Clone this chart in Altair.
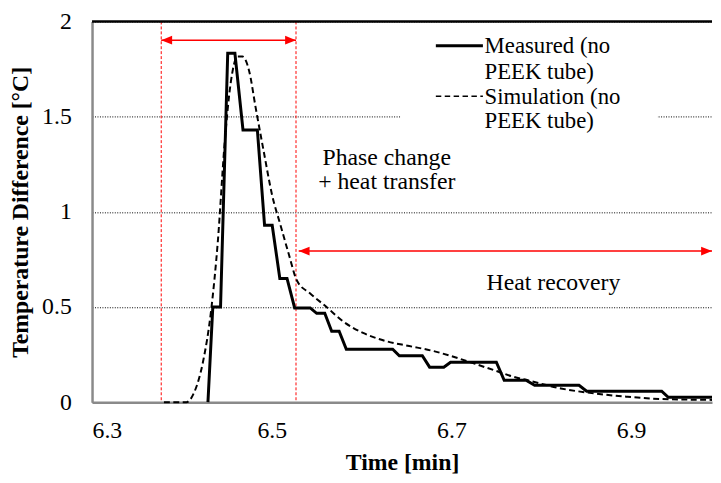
import altair as alt
import pandas as pd

# ---------------- data ----------------
meas_t = [6.429, 6.4344, 6.443, 6.451, 6.459, 6.468, 6.484, 6.492, 6.5005, 6.509, 6.517,
          6.5255, 6.5428, 6.550, 6.559, 6.5667, 6.575, 6.583, 6.6346, 6.642, 6.6676,
          6.6757, 6.6915, 6.699, 6.750, 6.7587, 6.783, 6.7926, 6.842, 6.8505, 6.934,
          6.9413, 6.99]
meas_v = [0, 0.5, 0.5, 1.833, 1.833, 1.43, 1.43, 0.93, 0.93, 0.65, 0.65,
          0.495, 0.495, 0.467, 0.467, 0.373, 0.373, 0.278, 0.278, 0.244, 0.244,
          0.184, 0.184, 0.21, 0.21, 0.115, 0.115, 0.089, 0.089, 0.058, 0.058,
          0.026, 0.026]

sim_t = [6.38, 6.405, 6.414, 6.4234, 6.4326, 6.44, 6.4473, 6.4546, 6.462, 6.4675,
         6.4749, 6.482, 6.4914, 6.5005, 6.5097, 6.519, 6.528, 6.5428, 6.561, 6.5795,
         6.6016, 6.627, 6.653, 6.6787, 6.704, 6.7265, 6.748, 6.77, 6.785, 6.822,
         6.8587, 6.895, 6.932, 6.99]
sim_v = [0, 0, 0.055, 0.21, 0.485, 0.845, 1.344, 1.687, 1.816, 1.816,
         1.739, 1.55, 1.309, 1.086, 0.931, 0.777, 0.639, 0.571, 0.50, 0.424,
         0.364, 0.321, 0.295, 0.27, 0.236, 0.201, 0.167, 0.132, 0.115, 0.072,
         0.046, 0.029, 0.017, 0.012]

x_ticks = [6.3, 6.5, 6.7, 6.9]
y_ticks = [0, 0.5, 1, 1.5, 2]
x_domain = [6.3, 6.99]
y_domain = [0, 2]

phase_lines = [6.377, 6.527]
arrow_start = [6.377, 6.530]
arrow_end = [6.527, 6.99]
arrow_level = [1.902, 0.794]

note_text = ["Phase change", "+ heat transfer", "Heat recovery"]
note_t = [6.628, 6.628, 6.8135]
note_v = [1.247, 1.118, 0.588]

legend_first = ["Measured (no", "Simulation (no"]
legend_second = ["PEEK tube)", "PEEK tube)"]

FONT = "Liberation Serif"
FS = 24
RED = "#ff0000"

# ---------------- tables ----------------
df_meas = pd.DataFrame({"t": meas_t, "v": meas_v})
df_sim = pd.DataFrame({"t": sim_t, "v": sim_v})
df_vlines = pd.DataFrame({"t": phase_lines})
df_top = pd.DataFrame({"v": [y_domain[1]]})
df_arrows = pd.DataFrame({"t": arrow_start, "t2": arrow_end, "v": arrow_level})
df_left = pd.DataFrame({"t": arrow_start, "v": arrow_level})
df_right = pd.DataFrame({"t": arrow_end, "v": arrow_level})
df_notes = pd.DataFrame({"t": note_t, "v": note_v, "label": note_text})
dummy = pd.DataFrame({"a": [0]})

X = alt.X("t:Q",
          scale=alt.Scale(domain=x_domain, nice=False, zero=False),
          axis=alt.Axis(values=x_ticks, format=".1f", grid=False, ticks=False,
                        labelPadding=17, labelFont=FONT, labelFontSize=FS, labelColor="black",
                        title="Time [min]", titleFont=FONT, titleFontSize=FS,
                        titleFontWeight="bold", titleColor="black", titlePadding=8,
                        domainColor="#8a8a8a", domainWidth=2.5))
Y = alt.Y("v:Q",
          scale=alt.Scale(domain=y_domain, nice=False),
          axis=alt.Axis(values=y_ticks, format="~g", grid=True, gridDash=[1, 1.5],
                        gridColor="black", gridWidth=1, ticks=False,
                        labelPadding=21, labelFont=FONT, labelFontSize=FS, labelColor="black",
                        title="Temperature Difference [°C]", titleFont=FONT, titleFontSize=FS,
                        titleFontWeight="bold", titleColor="black", titlePadding=9,
                        domainColor="#8a8a8a", domainWidth=2.5))

meas = alt.Chart(df_meas).mark_line(color="black", strokeWidth=3, strokeJoin="miter").encode(x=X, y=Y)
sim = alt.Chart(df_sim).mark_line(color="black", strokeWidth=2, strokeDash=[6, 3.5],
                                  interpolate="monotone").encode(x=X, y=Y)

top_line = alt.Chart(df_top).mark_rule(color="black", strokeWidth=2.5).encode(y=Y)
vlines = alt.Chart(df_vlines).mark_rule(color=RED, strokeWidth=1, strokeDash=[3, 2]).encode(x=X)
arrows = alt.Chart(df_arrows).mark_rule(color=RED, strokeWidth=1.5).encode(x=X, x2="t2", y=Y)
left_heads = alt.Chart(df_left).mark_point(shape="M0,0L1,-0.4L1,0.4Z", filled=True, size=484,
                                           color=RED, opacity=1).encode(x=X, y=Y)
right_heads = alt.Chart(df_right).mark_point(shape="M0,0L-1,-0.4L-1,0.4Z", filled=True, size=484,
                                             color=RED, opacity=1).encode(x=X, y=Y)
notes = alt.Chart(df_notes).mark_text(font=FONT, fontSize=FS, color="black", align="center",
                                      baseline="alphabetic").encode(x=X, y=Y, text="label:N")

# ---------------- legend (drawn by hand, pixel offsets inside the plot) ----------------
legend_bg = alt.Chart(dummy).mark_rect(color="white").encode(
    x=alt.value(312), x2=alt.value(572), y=alt.value(17), y2=alt.value(117))
leg_solid = alt.Chart(dummy).mark_rule(color="black", strokeWidth=3).encode(
    x=alt.value(347.7), x2=alt.value(395.3), y=alt.value(24.5))
leg_dash = alt.Chart(dummy).mark_rule(color="black", strokeWidth=1.5, strokeDash=[5.5, 3.5]).encode(
    x=alt.value(347.7), x2=alt.value(395.3), y=alt.value(75.5))
leg_texts = []
for lbl, yy in [(legend_first[0], 32), (legend_second[0], 58),
                (legend_first[1], 83), (legend_second[1], 108)]:
    leg_texts.append(
        alt.Chart(dummy).mark_text(font=FONT, fontSize=23, color="black", align="left",
                                   baseline="alphabetic", text=lbl).encode(
            x=alt.value(397), y=alt.value(yy)))

chart = alt.layer(
    vlines, arrows, left_heads, right_heads, top_line,
    legend_bg, leg_solid, leg_dash, *leg_texts,
    notes, sim, meas,
).properties(
    width=627, height=385,
    autosize=alt.AutoSizeParams(type="none"),
    padding={"left": 85, "top": 11, "right": 1, "bottom": 72},
    background="white",
).configure_view(stroke=None)

chart.save("out.html", embed_options={"renderer": "svg", "actions": False})
